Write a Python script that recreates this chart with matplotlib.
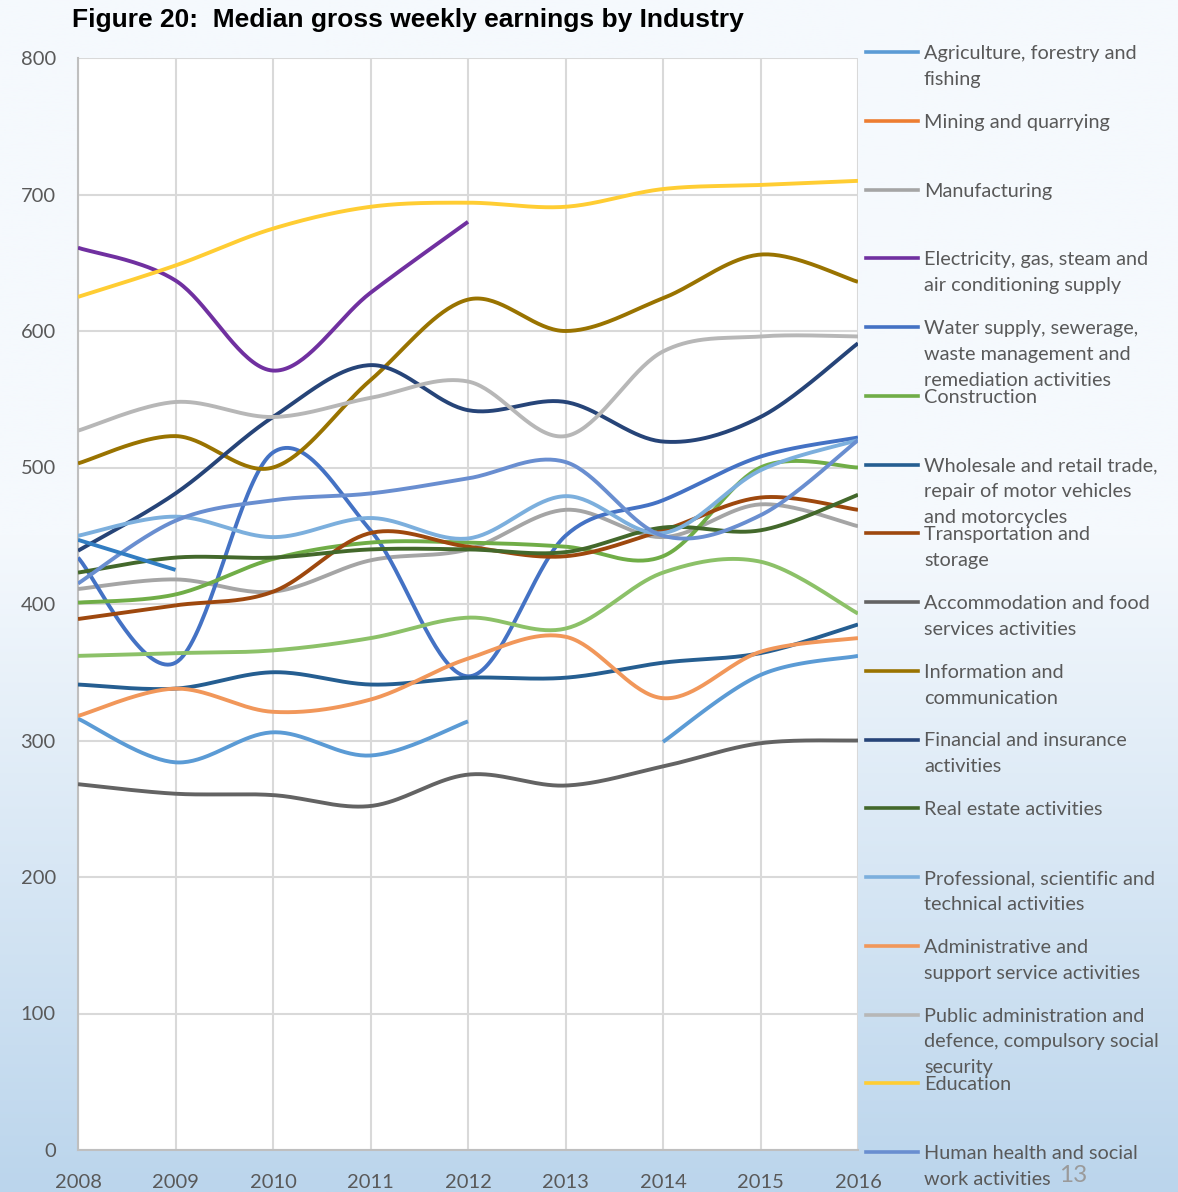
import numpy as np
import matplotlib
matplotlib.use("Agg")
import matplotlib.pyplot as plt
from matplotlib.lines import Line2D

# ---------------- data ----------------
years = [2008, 2009, 2010, 2011, 2012, 2013, 2014, 2015, 2016]
nan = np.nan

agriculture   = [316, 284, 306, 289, 314, nan, 299, 348, 362]
mining        = [nan, nan, nan, nan, nan, nan, nan, nan, nan]
manufacturing = [411, 418, 409, 432, 440, 469, 449, 473, 457]
electricity   = [661, 637, 571, 628, 680, nan, nan, nan, nan]
water         = [434, 357, 511, 454, 347, 450, 476, 508, 522]
construction  = [401, 407, 433, 445, 445, 442, 435, 500, 500]
wholesale     = [341, 338, 350, 341, 346, 346, 357, 364, 385]
transport     = [389, 399, 409, 452, 442, 435, 454, 478, 469]
accommodation = [268, 261, 260, 252, 275, 267, 281, 298, 300]
information   = [503, 523, 500, 564, 623, 600, 624, 656, 636]
financial     = [439, 481, 537, 575, 542, 548, 519, 537, 591]
real_estate   = [423, 434, 434, 440, 440, 438, 456, 454, 480]
professional  = [450, 464, 449, 463, 448, 479, 452, 498, 520]
administrative= [318, 338, 321, 330, 360, 376, 331, 365, 375]
public_admin  = [527, 548, 537, 551, 563, 523, 585, 596, 596]
education     = [625, 648, 675, 691, 694, 691, 704, 707, 710]
health        = [415, 461, 476, 481, 492, 504, 450, 465, 520]
arts          = [362, 364, 366, 375, 390, 382, 423, 431, 393]
other         = [447, 425, nan, nan, nan, nan, nan, nan, nan]

labels = [
    "Agriculture, forestry and\nfishing",
    "Mining and quarrying",
    "Manufacturing",
    "Electricity, gas, steam and\nair conditioning supply",
    "Water supply, sewerage,\nwaste management and\nremediation activities",
    "Construction",
    "Wholesale and retail trade,\nrepair of motor vehicles\nand motorcycles",
    "Transportation and\nstorage",
    "Accommodation and food\nservices activities",
    "Information and\ncommunication",
    "Financial and insurance\nactivities",
    "Real estate activities",
    "Professional, scientific and\ntechnical activities",
    "Administrative and\nsupport service activities",
    "Public administration and\ndefence, compulsory social\nsecurity",
    "Education",
    "Human health and social\nwork activities",
    "Arts, entertainment and recreation",
    "Other service activities",
]
series = [agriculture, mining, manufacturing, electricity, water, construction,
          wholesale, transport, accommodation, information, financial,
          real_estate, professional, administrative, public_admin, education,
          health, arts, other]
colors = ["#5B9BD5", "#ED7D31", "#A5A5A5", "#7030A0", "#4472C4", "#70AD47",
          "#255E91", "#9E480E", "#636363", "#997300", "#264478", "#43682B",
          "#7CAFDD", "#F1975A", "#B7B7B7", "#FFCD33", "#698ED0", "#8CC168",
          "#327DC2"]
n_legend = 17  # entries visible in the legend
yticks = [0, 100, 200, 300, 400, 500, 600, 700, 800]

FONT = "Lato"
TXT = "#595959"


def bezier_smooth(x, y, n=40):
    """Excel-like smoothed line (Catmull-Rom as cubic Bezier), per contiguous run."""
    x = np.asarray(x, float)
    y = np.asarray(y, float)
    runs, cur = [], []
    for xi, yi in zip(x, y):
        if np.isnan(yi):
            if cur:
                runs.append(cur)
            cur = []
        else:
            cur.append((xi, yi))
    if cur:
        runs.append(cur)
    out = []
    for run in runs:
        P = np.array(run)
        m = len(P)
        if m < 2:
            continue
        xs, ys = [], []
        for i in range(m - 1):
            p0 = P[i - 1] if i > 0 else P[i]
            p1, p2 = P[i], P[i + 1]
            p3 = P[i + 2] if i + 2 < m else P[i + 1]
            c1 = p1 + (p2 - p0) / 6.0
            c2 = p2 - (p3 - p1) / 6.0
            t = np.linspace(0, 1, n)[:, None]
            B = ((1 - t) ** 3) * p1 + 3 * ((1 - t) ** 2) * t * c1 + 3 * (1 - t) * t ** 2 * c2 + t ** 3 * p2
            xs.append(B[:, 0]); ys.append(B[:, 1])
        out.append((np.concatenate(xs), np.concatenate(ys)))
    return out


W, H = 1178, 1192
fig = plt.figure(figsize=(W / 100, H / 100), dpi=100)

# background gradient
bg = fig.add_axes([0, 0, 1, 1], zorder=-10)
top = np.array([0xF5, 0xF9, 0xFD]) / 255
bot = np.array([0xBB, 0xD5, 0xEC]) / 255
rows = np.linspace(0, 1, 600)
frac = np.clip((rows - 0.45) / 0.55, 0, 1)[:, None]
grad = top * (1 - frac) + bot * frac
img = np.repeat(grad[:, None, :], 2, axis=1)
bg.imshow(img, aspect="auto", extent=[0, 1, 0, 1], origin="upper")
bg.set_axis_off()

# main axes: x 78..858 px, y 58..1150 px
ax = fig.add_axes([78 / W, 1 - 1150 / H, 780 / W, 1092 / H])
ax.set_facecolor("white")

for s, c in zip(series, colors):
    for xs, ys in bezier_smooth(years, s):
        ax.plot(xs, ys, color=c, lw=2.8, solid_capstyle="butt", zorder=3)

ax.set_xlim(years[0], years[-1])
ax.set_ylim(0, 800)
ax.set_xticks(years)
ax.set_yticks(yticks)
ax.grid(True, color="#D9D9D9", lw=1.5, zorder=0)
ax.set_axisbelow(True)
for side in ["top", "right"]:
    ax.spines[side].set_visible(False)
ax.spines["left"].set_color("#BFBFBF")
ax.spines["bottom"].set_color("#BFBFBF")
ax.spines["left"].set_linewidth(1.5)
ax.spines["bottom"].set_linewidth(1.5)
ax.tick_params(axis="both", length=0, labelsize=14.5, labelcolor=TXT)
ax.tick_params(axis="x", pad=17)
ax.tick_params(axis="y", pad=16)
for lab in ax.get_xticklabels() + ax.get_yticklabels():
    lab.set_fontfamily(FONT)

# title
fig.text(72 / W, 1 - 20 / H, "Figure 20:  Median gross weekly earnings by Industry",
         fontsize=19, fontweight="bold", family="Liberation Sans",
         ha="left", va="center", color="black")

# legend (manual, fixed spacing like the source chart)
y0, dy, line_dy = 52, 68.75, 26
for i in range(n_legend):
    yp = y0 + i * dy
    fy = 1 - yp / H
    fig.add_artist(Line2D([866 / W, 918 / W], [fy, fy], color=colors[i], lw=2.6,
                          transform=fig.transFigure))
    for k, line in enumerate(labels[i].split("\n")):
        fig.text(924 / W, 1 - (yp + k * line_dy) / H, line, fontsize=14.3,
                 family=FONT, color=TXT, ha="left", va="center_baseline")

# page number
fig.text(1059 / W, 1 - 1176 / H, "13", fontsize=17.5, family=FONT, color="#9A9A9A",
         ha="left", va="center")

fig.savefig("out.png", dpi=100)
